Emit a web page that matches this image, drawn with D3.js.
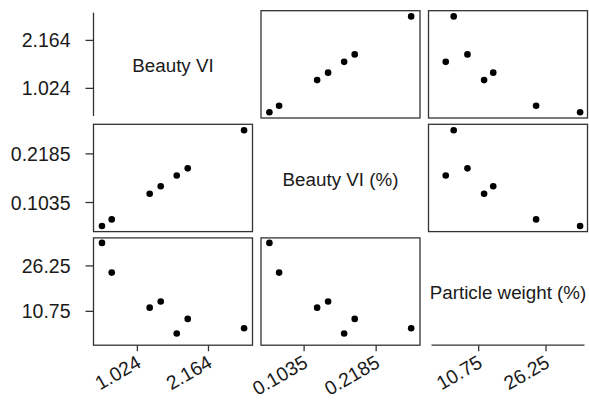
<!DOCTYPE html>
<html>
<head>
<meta charset="utf-8">
<script src="https://cdn.jsdelivr.net/npm/d3@7"></script>
<style>
  body { margin: 0; background: #fff; }
  text { font-family: "Liberation Sans", Arial, sans-serif; fill: #1a1a1a; }
</style>
</head>
<body>
<div class="chart"></div>
<script>
var svgWidth = 589;
var svgHeight = 403;

// variables of the pairs plot
var varNames = ["Beauty VI", "Beauty VI (%)", "Particle weight (%)"];
var beautyVI = [0.456, 0.612, 1.221, 1.398, 1.655, 1.831, 2.735];
var beautyPct = [0.0481, 0.0636, 0.1243, 0.1418, 0.1674, 0.1843, 0.2744];
var particleWt = [34.1, 23.97, 12.0, 14.1, 3.17, 8.17, 5.0];
var tickVals = [[1.024, 2.164], [0.1035, 0.2185], [10.75, 26.25]];
var tickText = [["1.024", "2.164"], ["0.1035", "0.2185"], ["10.75", "26.25"]];
var limits = [[0.32, 2.87], [0.0347, 0.2885], [-0.8, 35.8]];

var columns = [beautyVI, beautyPct, particleWt];

// panel layout
var panelLeft = 93.5, panelTop = 10.7;
var pw = 159, ph = 107.3;
var gapX = 8.5, gapY = 6.3;

var svg = d3.select(".chart")
  .append("svg")
  .attr("width", svgWidth)
  .attr("height", svgHeight);

var xScales = limits.map(function(d) {
  return d3.scaleLinear().domain(d).range([0, pw]);
});
var yScales = limits.map(function(d) {
  return d3.scaleLinear().domain(d).range([ph, 0]);
});

var n = varNames.length;

for (var i = 0; i < n; i++) {      // row -> y variable
  for (var j = 0; j < n; j++) {    // col -> x variable
    var gx = panelLeft + j * (pw + gapX);
    var gy = panelTop + i * (ph + gapY);
    var g = svg.append("g").attr("transform", `translate(${gx}, ${gy})`);

    if (i == j) {
      g.append("text")
        .attr("x", pw / 2)
        .attr("y", ph / 2)
        .attr("dy", "0.42em")
        .attr("text-anchor", "middle")
        .style("font-size", "18.8px")
        .text(varNames[i]);
    } else {
      g.append("rect")
        .attr("width", pw)
        .attr("height", ph)
        .attr("fill", "none")
        .attr("stroke", "#333")
        .attr("stroke-width", 1.3);

      var pts = columns[j].map(function(v, k) { return [v, columns[i][k]]; });
      g.selectAll("circle")
        .data(pts)
        .enter()
        .append("circle")
        .attr("cx", d => xScales[j](d[0]))
        .attr("cy", d => yScales[i](d[1]))
        .attr("r", 3.3)
        .attr("fill", "#000");
    }

    // left axis on first column
    if (j == 0) {
      var ly = g.append("g");
      if (i == j) {
        ly.append("line")
          .attr("x1", 0).attr("x2", 0)
          .attr("y1", 2).attr("y2", ph - 2)
          .attr("stroke", "#333").attr("stroke-width", 1.3);
      }
      ly.selectAll(".tk")
        .data(tickVals[i])
        .enter()
        .append("line")
        .attr("x1", -8).attr("x2", 0)
        .attr("y1", d => yScales[i](d))
        .attr("y2", d => yScales[i](d))
        .attr("stroke", "#333").attr("stroke-width", 1.3);
      ly.selectAll(".lb")
        .data(tickVals[i])
        .enter()
        .append("text")
        .attr("x", -23)
        .attr("y", d => yScales[i](d))
        .attr("dy", "0.36em")
        .attr("text-anchor", "end")
        .style("font-size", "19.5px")
        .text((d, k) => tickText[i][k]);
    }

    // bottom axis on last row
    if (i == n - 1) {
      var bx = g.append("g").attr("transform", `translate(0, ${ph})`);
      if (i == j) {
        bx.append("line")
          .attr("x1", 3).attr("x2", pw - 3)
          .attr("y1", 0).attr("y2", 0)
          .attr("stroke", "#333").attr("stroke-width", 1.3);
      }
      bx.selectAll(".tk")
        .data(tickVals[j])
        .enter()
        .append("line")
        .attr("x1", d => xScales[j](d))
        .attr("x2", d => xScales[j](d))
        .attr("y1", 0).attr("y2", 6)
        .attr("stroke", "#333").attr("stroke-width", 1.3);
      bx.selectAll(".lb")
        .data(tickVals[j])
        .enter()
        .append("text")
        .attr("transform", d => `translate(${xScales[j](d) + 5}, 21) rotate(-30)`)
        .attr("text-anchor", "end")
        .style("font-size", "19.5px")
        .text((d, k) => tickText[j][k]);
    }
  }
}
</script>
</body>
</html>
